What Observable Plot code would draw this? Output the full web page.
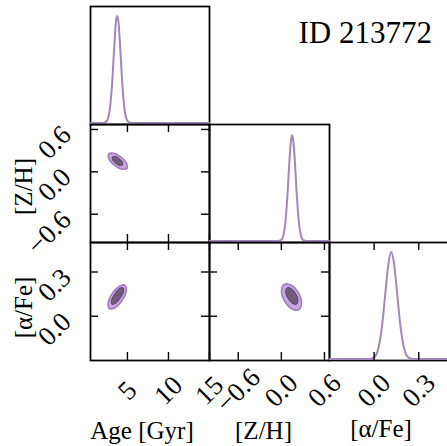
<!DOCTYPE html>
<html>
<head>
<meta charset="utf-8">
<script src="https://cdn.jsdelivr.net/npm/d3@7"></script>
<script src="https://cdn.jsdelivr.net/npm/@observablehq/plot@0.6"></script>
<style>
  body { margin: 0; background: #fff; }
  #chart { position: relative; width: 447px; height: 446px; overflow: hidden; font-family: "Liberation Serif", serif; }
  #chart svg { position: absolute; }
  #title { position: absolute; right: 15px; top: 17px; font-size: 31px; line-height: 31px; font-family: "Liberation Serif", serif; color: #000; }
</style>
</head>
<body>
<div id="chart"><div id="title">ID 213772</div></div>
<script>
// ---- axis definitions ----
const ageDomain = [0.5, 15];
const zhDomain = [-1.0, 0.67];
const afeDomain = [-0.3, 0.5];
const ageTicks = [5, 10, 15];
const ageTickLabels = ["5", "10", "15"];
const zhTicks = [-0.6, 0, 0.6];
const zhTickLabels = ["−0.6", "0.0", "0.6"];
const afeTicks = [0, 0.3];
const afeTickLabels = ["0.0", "0.3"];
const axisLabels = ["Age [Gyr]", "[Z/H]", "[α/Fe]"];

// ---- 1D marginal curves (peak normalised to 1) ----
const ageGrid = [0.5, 2.0, 2.4, 2.8, 3.1, 3.4, 3.6, 3.75, 3.9, 4.1, 4.4, 4.7, 5.1, 5.6, 15];
const ageDens = [0, 0, 0.01, 0.1, 0.33, 0.72, 0.95, 1.0, 0.95, 0.73, 0.34, 0.1, 0.01, 0, 0];
const zhGrid = [-1.0, -0.05, 0.0, 0.03, 0.06, 0.09, 0.11, 0.13, 0.15, 0.17, 0.19, 0.21, 0.24, 0.27, 0.30, 0.35, 0.67];
const zhDens = [0, 0, 0.01, 0.06, 0.2, 0.49, 0.73, 0.92, 1.0, 0.92, 0.73, 0.49, 0.2, 0.06, 0.01, 0, 0];
const afeGrid = [-0.3, -0.03, -0.005, 0.025, 0.055, 0.075, 0.095, 0.115, 0.135, 0.155, 0.175, 0.205, 0.235, 0.265, 0.5];
const afeDens = [0, 0, 0.01, 0.08, 0.33, 0.61, 0.88, 1.0, 0.88, 0.61, 0.33, 0.08, 0.01, 0, 0];

// ---- 2D contours (outline vertices) ----
const ageZhOuter = [[4.94,0.050],[4.33,0.039],[3.44,0.093],[2.77,0.180],[2.72,0.251],[3.33,0.262],[4.22,0.209],[4.89,0.121]];
const ageZhInner = [[4.41,0.097],[4.07,0.090],[3.57,0.120],[3.20,0.170],[3.17,0.210],[3.51,0.217],[4.02,0.187],[4.39,0.137]];
const ageAfeOuter = [[4.69,0.210],[4.85,0.170],[4.36,0.108],[3.52,0.059],[2.82,0.051],[2.66,0.090],[3.14,0.153],[3.98,0.202]];
const ageAfeInner = [[4.46,0.194],[4.52,0.168],[4.14,0.124],[3.57,0.088],[3.12,0.081],[3.06,0.107],[3.44,0.150],[4.01,0.187]];
const zhAfeOuter = [[0.242,0.045],[0.144,0.051],[0.045,0.103],[0.002,0.172],[0.040,0.216],[0.138,0.210],[0.238,0.158],[0.280,0.090]];
const zhAfeInner = [[0.211,0.081],[0.154,0.087],[0.091,0.122],[0.060,0.166],[0.079,0.193],[0.137,0.187],[0.200,0.153],[0.230,0.109]];

// ---- styling ----
const FONT = "Liberation Serif, serif";
const LINE = "#a386bb";
const OUT_FILL = "#c9a8de", OUT_STROKE = "#a47ac6";
const IN_FILL = "#6f5b7b", IN_STROKE = "#4f3f5b";
const TICK = 8, FRAME_W = 1.75, TICK_W = 1.4;
const TICK_FS = 27, LABEL_FS = 25;
const HIST_Y = [-0.015, 1.09];
const colX = [90, 209, 329], colW = [119, 120, 119];
const rowY = [6, 124, 242], rowH = 118;

const chart = document.getElementById("chart");

function panel(col, row, xDomain, yDomain, marks) {
  const svg = Plot.plot({
    width: colW[col], height: rowH, margin: 0,
    x: {domain: xDomain, axis: null},
    y: {domain: yDomain, axis: null},
    style: {overflow: "visible", background: "transparent", fontFamily: FONT, color: "black"},
    marks
  });
  svg.style.left = colX[col] + "px";
  svg.style.top = rowY[row] + "px";
  chart.appendChild(svg);
}

function xTickMarks(ticks) {
  return [
    Plot.tickX(ticks, {x: d => d, insetTop: rowH - TICK, stroke: "black", strokeWidth: TICK_W}),
    Plot.tickX(ticks, {x: d => d, insetBottom: rowH - TICK, stroke: "black", strokeWidth: TICK_W})
  ];
}
function yTickMarks(ticks, W) {
  return [
    Plot.tickY(ticks, {y: d => d, insetRight: W - TICK, stroke: "black", strokeWidth: TICK_W}),
    Plot.tickY(ticks, {y: d => d, insetLeft: W - TICK, stroke: "black", strokeWidth: TICK_W})
  ];
}
function xTickLabels(ticks, labels) {
  return Plot.text(ticks, {x: d => d, frameAnchor: "bottom", text: (d, i) => labels[i],
    rotate: -45, textAnchor: "middle", lineAnchor: "middle", dy: 30, fontSize: TICK_FS, fontFamily: FONT});
}
function yTickLabels(ticks, labels) {
  return Plot.text(ticks, {y: d => d, frameAnchor: "left", text: (d, i) => labels[i],
    rotate: -45, textAnchor: "end", lineAnchor: "middle", dx: -24, dy: 1, fontSize: TICK_FS, fontFamily: FONT});
}
function contour(outer, inner) {
  return [
    Plot.line(outer, {x: d => d[0], y: d => d[1], curve: "catmull-rom-closed", fill: OUT_FILL, stroke: OUT_STROKE, strokeWidth: 1.6}),
    Plot.line(inner, {x: d => d[0], y: d => d[1], curve: "catmull-rom-closed", fill: IN_FILL, stroke: IN_STROKE, strokeWidth: 1})
  ];
}
function hist(grid, dens) {
  return Plot.line(grid, {x: d => d, y: (d, i) => dens[i], curve: "monotone-x", stroke: LINE, strokeWidth: 2});
}

// Row 0: Age marginal
panel(0, 0, ageDomain, HIST_Y, [
  Plot.frame({stroke: "black", strokeWidth: FRAME_W}),
  hist(ageGrid, ageDens)
]);

// Row 1: Age vs [Z/H]
panel(0, 1, ageDomain, zhDomain, [
  ...contour(ageZhOuter, ageZhInner),
  ...xTickMarks(ageTicks),
  ...yTickMarks(zhTicks, colW[0]),
  yTickLabels(zhTicks, zhTickLabels),
  Plot.text([axisLabels[1]], {frameAnchor: "left", text: d => d, rotate: -90, textAnchor: "middle", lineAnchor: "middle", dx: -67, dy: 3, fontSize: LABEL_FS, fontFamily: FONT}),
  Plot.frame({stroke: "black", strokeWidth: FRAME_W})
]);

// Row 1: [Z/H] marginal
panel(1, 1, zhDomain, [-0.015, 1.10], [
  Plot.frame({stroke: "black", strokeWidth: FRAME_W}),
  hist(zhGrid, zhDens)
]);

// Row 2: Age vs [α/Fe]
panel(0, 2, ageDomain, afeDomain, [
  ...contour(ageAfeOuter, ageAfeInner),
  ...xTickMarks(ageTicks),
  ...yTickMarks(afeTicks, colW[0]),
  yTickLabels(afeTicks, afeTickLabels),
  xTickLabels(ageTicks, ageTickLabels),
  Plot.text([axisLabels[2]], {frameAnchor: "left", text: d => d, rotate: -90, textAnchor: "middle", lineAnchor: "middle", dx: -67, dy: 6, fontSize: LABEL_FS, fontFamily: FONT}),
  Plot.text([axisLabels[0]], {frameAnchor: "bottom", text: d => d, textAnchor: "middle", lineAnchor: "middle", dx: -8, dy: 70, fontSize: LABEL_FS, fontFamily: FONT}),
  Plot.frame({stroke: "black", strokeWidth: FRAME_W})
]);

// Row 2: [Z/H] vs [α/Fe]
panel(1, 2, zhDomain, afeDomain, [
  ...contour(zhAfeOuter, zhAfeInner),
  ...xTickMarks(zhTicks),
  ...yTickMarks(afeTicks, colW[1]),
  xTickLabels(zhTicks, zhTickLabels),
  Plot.text([axisLabels[1]], {frameAnchor: "bottom", text: d => d, textAnchor: "middle", lineAnchor: "middle", dx: -6, dy: 70, fontSize: LABEL_FS, fontFamily: FONT}),
  Plot.frame({stroke: "black", strokeWidth: FRAME_W})
]);

// Row 2: [α/Fe] marginal
panel(2, 2, afeDomain, HIST_Y, [
  Plot.frame({stroke: "black", strokeWidth: FRAME_W}),
  hist(afeGrid, afeDens),
  ...xTickMarks(afeTicks),
  xTickLabels(afeTicks, afeTickLabels),
  Plot.text([axisLabels[2]], {frameAnchor: "bottom", text: d => d, textAnchor: "middle", lineAnchor: "middle", dx: -8, dy: 68, fontSize: LABEL_FS, fontFamily: FONT})
]);
</script>
</body>
</html>
